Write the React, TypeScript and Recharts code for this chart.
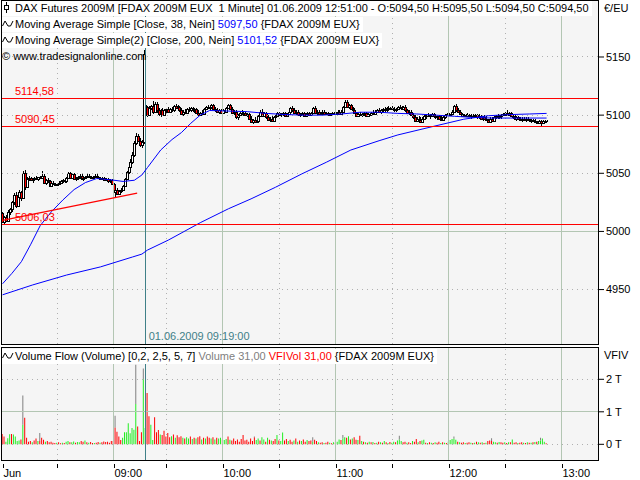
import { ComposedChart, Bar, Line, XAxis, YAxis, ReferenceLine, Cell } from 'recharts'

const FONT = '"Liberation Sans", Arial, sans-serif'

// one entry per traded minute, 08:00 .. 12:51 (bar index, minutes without trades are skipped)
const opens = [
  5016, 5008, 5012, 5009, 5017, 5019, 5025, 5031, 5022, 5030,
  5034, 5029, 5050, 5038, 5045, 5046, 5044, 5045, 5046, 5045,
  5047, 5046, 5048, 5042, 5044, 5043, 5039, 5042, 5041, 5040,
  5041, 5042, 5043, 5044, 5043, 5046, 5050, 5046, 5049, 5045,
  5046, 5047, 5048, 5045, 5046, 5047, 5048, 5047, 5046, 5047,
  5048, 5047, 5046, 5045, 5046, 5044, 5045, 5043, 5044, 5041,
  5034, 5036, 5032, 5035, 5036, 5039, 5045, 5051, 5055, 5060,
  5066, 5076, 5082, 5078, 5074, 5077, 5104, 5107, 5100, 5106,
  5108, 5103, 5110, 5104, 5101, 5104, 5100, 5104, 5105, 5103,
  5105, 5104, 5108, 5106, 5107, 5104, 5101, 5103, 5102, 5105,
  5104, 5106, 5104, 5105, 5102, 5100, 5102, 5101, 5105, 5107,
  5106, 5107, 5109, 5105, 5104, 5103, 5104, 5102, 5104, 5103,
  5106, 5109, 5105, 5102, 5103, 5098, 5100, 5102, 5101, 5102,
  5100, 5101, 5097, 5094, 5096, 5094, 5095, 5099, 5103, 5099,
  5102, 5098, 5096, 5097, 5095, 5098, 5099, 5102, 5100, 5101,
  5102, 5099, 5101, 5103, 5106, 5104, 5102, 5103, 5100, 5101,
  5102, 5099, 5101, 5102, 5100, 5102, 5106, 5102, 5103, 5101,
  5102, 5103, 5101, 5102, 5100, 5101, 5102, 5101, 5102, 5103,
  5101, 5103, 5107, 5111, 5107, 5109, 5105, 5104, 5102, 5099,
  5101, 5100, 5101, 5102, 5099, 5101, 5100, 5102, 5101, 5103,
  5104, 5103, 5104, 5105, 5104, 5106, 5105, 5106, 5105, 5104,
  5105, 5107, 5106, 5105, 5107, 5104, 5102, 5103, 5100, 5098,
  5095, 5097, 5096, 5094, 5097, 5099, 5100, 5099, 5100, 5101,
  5099, 5098, 5099, 5097, 5096, 5098, 5100, 5101, 5100, 5101,
  5103, 5108, 5104, 5103, 5101, 5099, 5100, 5099, 5100, 5099,
  5100, 5099, 5100, 5098, 5099, 5097, 5098, 5097, 5096, 5094,
  5097, 5095, 5098, 5099, 5098, 5099, 5100, 5101, 5102, 5100,
  5102, 5099, 5098, 5097, 5098, 5097, 5096, 5097, 5096, 5097,
  5096, 5095, 5096, 5095, 5094, 5093, 5095, 5093, 5095, 5094.5,
]
const highs = [
  5017, 5013, 5014, 5018, 5020, 5026, 5033, 5034, 5032, 5036,
  5035, 5052, 5053, 5047, 5048, 5047, 5046, 5047, 5048, 5047,
  5048, 5052, 5049, 5045, 5046, 5044, 5043, 5043, 5042, 5042,
  5043, 5044, 5045, 5045, 5047, 5051, 5051, 5050, 5050, 5047,
  5048, 5049, 5049, 5047, 5048, 5049, 5049, 5048, 5048, 5049,
  5049, 5048, 5047, 5047, 5047, 5046, 5046, 5045, 5045, 5042,
  5038, 5037, 5036, 5037, 5040, 5046, 5052, 5056, 5062, 5068,
  5078, 5085, 5084, 5080, 5079, 5156, 5109, 5108, 5108, 5109,
  5112, 5111, 5111, 5106, 5105, 5106, 5105, 5106, 5107, 5106,
  5107, 5109, 5110, 5109, 5108, 5106, 5104, 5105, 5106, 5107,
  5107, 5107, 5106, 5106, 5104, 5103, 5104, 5106, 5108, 5109,
  5108, 5110, 5110, 5107, 5106, 5105, 5105, 5105, 5106, 5107,
  5110, 5110, 5107, 5104, 5104, 5101, 5103, 5104, 5103, 5103,
  5102, 5102, 5099, 5097, 5098, 5097, 5100, 5104, 5105, 5103,
  5103, 5100, 5098, 5099, 5099, 5100, 5103, 5103, 5102, 5103,
  5103, 5102, 5104, 5107, 5108, 5106, 5104, 5104, 5102, 5103,
  5103, 5102, 5103, 5103, 5103, 5107, 5108, 5104, 5104, 5103,
  5104, 5104, 5103, 5103, 5102, 5103, 5103, 5103, 5104, 5104,
  5104, 5108, 5113, 5113, 5110, 5110, 5107, 5106, 5103, 5102,
  5103, 5102, 5103, 5103, 5102, 5102, 5103, 5104, 5104, 5105,
  5106, 5105, 5106, 5107, 5107, 5108, 5107, 5108, 5107, 5106,
  5108, 5109, 5108, 5108, 5109, 5105, 5104, 5104, 5102, 5100,
  5098, 5099, 5098, 5098, 5100, 5101, 5102, 5101, 5102, 5102,
  5101, 5100, 5100, 5099, 5099, 5101, 5102, 5102, 5102, 5104,
  5109, 5110, 5106, 5104, 5102, 5101, 5101, 5102, 5101, 5101,
  5101, 5101, 5101, 5101, 5100, 5099, 5100, 5099, 5097, 5098,
  5098, 5099, 5100, 5101, 5100, 5101, 5102, 5103, 5104, 5103,
  5103, 5100, 5100, 5099, 5099, 5098, 5098, 5098, 5098, 5098,
  5097, 5097, 5097, 5097, 5095, 5096, 5096, 5096, 5096, 5095.5,
]
const lows = [
  5007, 5006, 5008, 5008, 5014, 5017, 5023, 5020, 5021, 5028,
  5026, 5028, 5036, 5037, 5043, 5043, 5042, 5043, 5044, 5043,
  5045, 5045, 5041, 5040, 5042, 5038, 5038, 5040, 5039, 5039,
  5040, 5041, 5042, 5042, 5042, 5045, 5045, 5045, 5044, 5043,
  5044, 5045, 5044, 5043, 5045, 5046, 5046, 5045, 5045, 5046,
  5046, 5045, 5044, 5044, 5043, 5043, 5042, 5042, 5040, 5033,
  5030, 5031, 5031, 5033, 5035, 5038, 5044, 5049, 5053, 5058,
  5064, 5074, 5077, 5073, 5072, 5075, 5100, 5098, 5099, 5104,
  5101, 5102, 5102, 5099, 5098, 5099, 5099, 5102, 5102, 5102,
  5103, 5103, 5105, 5104, 5103, 5100, 5099, 5101, 5101, 5103,
  5103, 5103, 5102, 5101, 5099, 5099, 5100, 5100, 5104, 5105,
  5104, 5106, 5104, 5103, 5102, 5101, 5101, 5101, 5102, 5102,
  5105, 5104, 5101, 5100, 5097, 5096, 5099, 5100, 5099, 5099,
  5098, 5096, 5093, 5092, 5093, 5093, 5094, 5098, 5098, 5098,
  5097, 5095, 5094, 5094, 5094, 5096, 5098, 5099, 5098, 5099,
  5098, 5098, 5100, 5102, 5103, 5101, 5100, 5099, 5098, 5099,
  5098, 5098, 5100, 5099, 5099, 5101, 5101, 5100, 5100, 5100,
  5101, 5100, 5100, 5099, 5099, 5100, 5100, 5100, 5101, 5100,
  5100, 5102, 5106, 5106, 5105, 5104, 5103, 5101, 5098, 5098,
  5099, 5098, 5099, 5098, 5098, 5099, 5099, 5100, 5100, 5102,
  5102, 5101, 5103, 5103, 5103, 5104, 5104, 5104, 5103, 5103,
  5104, 5105, 5104, 5104, 5103, 5101, 5100, 5099, 5097, 5094,
  5094, 5095, 5093, 5093, 5096, 5097, 5098, 5097, 5098, 5098,
  5097, 5096, 5096, 5095, 5095, 5097, 5099, 5099, 5099, 5100,
  5102, 5103, 5102, 5100, 5098, 5098, 5098, 5098, 5098, 5097,
  5098, 5098, 5097, 5097, 5096, 5095, 5096, 5095, 5093, 5093,
  5094, 5094, 5097, 5097, 5097, 5097, 5099, 5099, 5099, 5099,
  5098, 5097, 5096, 5095, 5096, 5095, 5094, 5095, 5094, 5095,
  5094, 5093, 5094, 5093, 5092, 5092, 5091, 5093, 5093, 5094.5,
]
const closes = [
  5008, 5012, 5009, 5017, 5019, 5025, 5031, 5022, 5030, 5034,
  5029, 5050, 5038, 5045, 5046, 5044, 5045, 5046, 5045, 5047,
  5046, 5048, 5042, 5044, 5043, 5039, 5042, 5041, 5040, 5041,
  5042, 5043, 5044, 5043, 5046, 5050, 5046, 5049, 5045, 5046,
  5047, 5048, 5045, 5046, 5047, 5048, 5047, 5046, 5047, 5048,
  5047, 5046, 5045, 5046, 5044, 5045, 5043, 5044, 5041, 5034,
  5036, 5032, 5035, 5036, 5039, 5045, 5051, 5055, 5060, 5066,
  5076, 5082, 5078, 5074, 5077, 5153, 5107, 5100, 5106, 5108,
  5103, 5110, 5104, 5101, 5104, 5100, 5104, 5105, 5103, 5105,
  5104, 5108, 5106, 5107, 5104, 5101, 5103, 5102, 5105, 5104,
  5106, 5104, 5105, 5102, 5100, 5102, 5101, 5105, 5107, 5106,
  5107, 5109, 5105, 5104, 5103, 5104, 5102, 5104, 5103, 5106,
  5109, 5105, 5102, 5103, 5098, 5100, 5102, 5101, 5102, 5100,
  5101, 5097, 5094, 5096, 5094, 5095, 5099, 5103, 5099, 5102,
  5098, 5096, 5097, 5095, 5098, 5099, 5102, 5100, 5101, 5102,
  5099, 5101, 5103, 5106, 5104, 5102, 5103, 5100, 5101, 5102,
  5099, 5101, 5102, 5100, 5102, 5106, 5102, 5103, 5101, 5102,
  5103, 5101, 5102, 5100, 5101, 5102, 5101, 5102, 5103, 5101,
  5103, 5107, 5111, 5107, 5109, 5105, 5104, 5102, 5099, 5101,
  5100, 5101, 5102, 5099, 5101, 5100, 5102, 5101, 5103, 5104,
  5103, 5104, 5105, 5104, 5106, 5105, 5106, 5105, 5104, 5105,
  5107, 5106, 5105, 5107, 5104, 5102, 5103, 5100, 5098, 5095,
  5097, 5096, 5094, 5097, 5099, 5100, 5099, 5100, 5101, 5099,
  5098, 5099, 5097, 5096, 5098, 5100, 5101, 5100, 5101, 5103,
  5108, 5104, 5103, 5101, 5099, 5100, 5099, 5100, 5099, 5100,
  5099, 5100, 5098, 5099, 5097, 5098, 5097, 5096, 5094, 5097,
  5095, 5098, 5099, 5098, 5099, 5100, 5101, 5102, 5100, 5102,
  5099, 5098, 5097, 5098, 5097, 5096, 5097, 5096, 5097, 5096,
  5095, 5096, 5095, 5094, 5093, 5095, 5093, 5095, 5094, 5094.5,
]

// moving averages, read at selected bars
const ma38Idx = [0, 5, 10, 15, 20, 26, 32, 38, 44, 50, 57, 64, 70, 74, 77, 84, 90, 95, 100, 105, 110, 120, 130, 140, 150, 160, 170, 180, 190, 200, 210, 220, 230, 240, 250, 260, 270, 280, 289]
const ma38Val = [4955, 4964, 4974, 4989, 5005, 5017, 5027, 5036, 5042, 5045.5, 5044.5, 5043, 5044, 5048.5, 5055, 5070, 5079, 5085, 5093, 5100, 5104, 5103.5, 5103, 5101.5, 5100.5, 5100, 5100, 5101, 5102.5, 5102.5, 5101.5, 5101, 5100, 5099, 5098, 5097.5, 5097.5, 5097.5, 5097.5]
const ma200Idx = [0, 16, 34, 52, 69, 74, 77, 88, 105, 120, 132, 145, 159, 172, 185, 200, 210, 228, 245, 258, 270, 280, 289]
const ma200Val = [4945.5, 4954, 4962.5, 4969.5, 4978, 4980.5, 4984, 4992.5, 5007.5, 5019.5, 5028, 5038, 5049.5, 5059.5, 5070, 5078, 5083, 5090, 5096.5, 5099.5, 5100.5, 5101, 5101.5]

// drawn trend line and horizontal levels
const trendIdx = [0, 71.5]
const trendVal = [5009.5, 5033]
const levels = [5114.58, 5090.45, 5006.03]
const levelLabels = ['5114,58', '5090,45', '5006,03']

// volume flow in thousands, sign = direction (green up / red down)
const vfi = [
  -0.32, -0.24, 0.08, 0.19, 0.31, -0.32, 0.3, 0.24, 0.1, 0.12,
  -0.15, 0.6, -0.82, -0.2, -0.08, -0.1, 0.06, -0.12, -0.18, 0.1,
  -0.1, -0.2, -0.14, 0.08, -0.1, -0.06, -0.08, -0.05, -0.04, 0.05,
  -0.06, -0.03, 0.05, -0.04, 0.08, 0.1, -0.06, 0.06, 0.09, -0.05,
  0.07, 0.06, -0.1, -0.08, 0.12, -0.06, 0.05, -0.07, -0.04, 0.04,
  -0.05, -0.07, 0.05, -0.06, -0.09, -0.07, -0.08, -0.05, -0.1, -0.1,
  -0.52, -0.39, -0.24, -0.13, 0.2, 0.37, 0.37, 0.65, 0.34, 0.5,
  0.45, 1.24, -0.55, -0.1, -0.37, 2.0, 0.5, -1.58, -0.86, 0.6,
  0.13, -0.83, -0.37, -0.44, 0.3, -0.29, -0.42, -0.24, -0.35, -0.22,
  0.25, -0.3, 0.2, -0.28, -0.22, -0.25, 0.2, -0.18, 0.22, 0.18,
  -0.24, 0.16, -0.2, 0.18, -0.22, -0.25, 0.15, -0.2, 0.18, -0.24,
  -0.2, 0.18, -0.22, 0.15, -0.2, 0.18, 0.2, -0.15, 0.13, 0.16,
  -0.24, 0.14, -0.12, -0.18, -0.1, -0.15, -0.08, -0.16, -0.29, -0.12,
  -0.14, -0.08, -0.18, -0.1, -0.22, 0.13, 0.18, -0.12, 0.22, 0.15,
  -0.08, 0.2, -0.14, 0.12, -0.1, -0.16, 0.29, -0.12, 0.1, 0.36,
  -0.12, -0.16, 0.1, -0.14, -0.08, 0.12, -0.18, 0.08, -0.12, 0.1,
  -0.15, -0.08, 0.13, -0.1, -0.12, 0.08, -0.14, -0.1, 0.06, -0.05,
  -0.06, 0.04, -0.05, -0.08, 0.05, -0.03, 0.06, -0.05, 0.08, 0.15,
  -0.13, 0.18, 0.22, -0.2, 0.25, -0.15, 0.18, -0.22, -0.14, 0.13,
  -0.26, 0.1, -0.08, 0.06, -0.05, 0.08, -0.06, 0.07, -0.04, 0.05,
  -0.08, 0.06, -0.05, 0.1, -0.06, 0.04, -0.07, 0.05, 0.08, -0.06,
  0.12, 0.15, 0.1, -0.06, -0.08, 0.05, -0.06, -0.04, 0.1, -0.08,
  -0.16, 0.06, -0.1, 0.12, 0.14, -0.05, 0.04, -0.06, 0.05, -0.04,
  0.06, -0.05, -0.08, 0.04, -0.06, 0.05, -0.04, 0.08, 0.13, 0.16,
  0.18, 0.14, -0.08, 0.06, -0.05, -0.06, 0.04, -0.05, -0.06, 0.05,
  -0.04, 0.05, -0.08, 0.06, -0.05, 0.06, -0.04, 0.05, -0.1, -0.12,
  -0.1, 0.08, 0.06, -0.05, 0.07, -0.06, -0.05, 0.06, -0.04, 0.06,
  -0.06, 0.15, -0.05, -0.06, 0.04, -0.05, -0.06, 0.05, -0.04, 0.06,
  -0.05, 0.05, -0.06, 0.07, -0.08, 0.1, 0.12, 0.18, 0.08, -0.03,
]
// bars where total volume is above the flow value (grey part)
const volSpikeIdx = [11, 20, 60, 71, 75, 134, 165, 181, 211, 240, 260, 286]
const volSpikeVal = [1.5, 0.35, 0.88, 2.45, 2.33, 0.24, 0.22, 0.29, 0.26, 0.24, 0.19, 0.2]

// axis
const tickIdx = [0, 29, 59, 87, 117, 147, 177, 207, 237, 267, 297]
const tickLabels = ['Jun', '', '09:00', '', '10:00', '', '11:00', '', '12:00', '', '13:00']
const hourIdx = [59, 117, 177, 237, 297]
const halfIdx = [29, 87, 147, 207, 267]
const cursorIdx = 76
const priceTicks = [4950, 5000, 5050, 5100, 5150]
const volTicks = [0, 1, 2]

const X_DOMAIN: [number, number] = [-0.3, 316.3]
const GRID = '#b3c6b3'
const DOTS = '#b0b0b0'
const TEAL = '#3f8088'

const candles = closes.map((c, i) => ({ i, o: opens[i], h: highs[i], l: lows[i], c, range: [lows[i], highs[i]] }))
const ma38Rows = ma38Idx.map((i, k) => ({ i, v: ma38Val[k] }))
const ma200Rows = ma200Idx.map((i, k) => ({ i, v: ma200Val[k] }))
const volRows = vfi.map((v, i) => {
  const s = volSpikeIdx.indexOf(i)
  const flow = Math.abs(v)
  return { i, flow, rest: s >= 0 ? volSpikeVal[s] - flow : 0, up: v >= 0 }
})

function Candle(props: any) {
  const { x, width, payload } = props
  let { y, height } = props
  if (x == null || !payload) return null
  if (height < 0) { y += height; height = -height }
  const { o, h, l, c } = payload
  const k = h > l ? height / (h - l) : 0
  const cx = Math.round(x + width / 2) + 0.5
  const top = Math.round(y + (h - Math.max(o, c)) * k)
  const bot = Math.round(y + (h - Math.min(o, c)) * k)
  return (
    <g shapeRendering="crispEdges">
      <line x1={cx} x2={cx} y1={Math.round(y)} y2={Math.round(y + height)} stroke="#000" />
      <rect x={cx - 1} y={top + 0.5} width={2} height={Math.max(bot - top, 0)}
        fill={c >= o ? '#fff' : '#ff0000'} stroke="#000" />
    </g>
  )
}

function TimeTick({ x, y, payload }: any) {
  const label = tickLabels[tickIdx.indexOf(payload.value)]
  const px = Math.round(x) + 0.5
  return (
    <g>
      <line x1={px} x2={px} y1={y + 4} y2={y + 8} stroke="#000" shapeRendering="crispEdges" />
      <text x={px} y={y + 17} fontSize={11} fontFamily={FONT} fill="#000">{label}</text>
    </g>
  )
}

const vGrid = () => [
  ...hourIdx.map(v => <ReferenceLine key={'h' + v} x={v} stroke={GRID} shapeRendering="crispEdges" />),
  ...halfIdx.map(v => <ReferenceLine key={'m' + v} x={v} stroke={DOTS} strokeDasharray="1 4" shapeRendering="crispEdges" />),
]

const Icon = ({ kind }: { kind: 'candle' | 'wave' }) => (
  <svg width={12} height={11} style={{ verticalAlign: '-1px', marginRight: 1 }}>
    {kind === 'candle' ? (
      <g stroke="#000" fill="#fff" shapeRendering="crispEdges">
        <line x1={4.5} x2={4.5} y1={0} y2={11} />
        <rect x={2.5} y={3.5} width={4} height={4} />
      </g>
    ) : (
      <polyline points="0.5,8 3,3 6,8 8.5,8 11,3" fill="none" stroke="#000" />
    )}
  </svg>
)

const row = (top: number, white: boolean): React.CSSProperties => ({
  position: 'absolute', left: 2, top, height: 15, lineHeight: '15px', paddingRight: 3,
  background: white ? '#fff' : 'transparent', whiteSpace: 'nowrap', fontSize: 11, color: '#000',
})

export default function App() {
  return (
    <div style={{ position: 'absolute', left: 0, top: 0, width: 640, height: 480, background: '#fff', fontFamily: FONT, overflow: 'hidden' }}>
      {/* panel frames */}
      <div style={{ position: 'absolute', left: 1, top: 0, width: 598, height: 345, boxSizing: 'border-box', border: '1px solid #000', background: '#f5f5f5' }} />
      <div style={{ position: 'absolute', left: 1, top: 347, width: 598, height: 114, boxSizing: 'border-box', border: '1px solid #000', background: '#f5f5f5' }} />

      <div style={{ position: 'absolute', left: 0, top: 0 }}>
        <ComposedChart width={640} height={345} data={candles} margin={{ top: 1, right: 0, bottom: 1, left: 2 }}>
          <XAxis dataKey="i" type="number" domain={X_DOMAIN} allowDataOverflow hide />
          <YAxis orientation="right" type="number" domain={[4903.2, 5198.15]} allowDataOverflow ticks={priceTicks} interval={0}
            width={42} axisLine={false} tickSize={6} tickMargin={2} tickLine={{ stroke: '#000' }}
            tick={{ fontSize: 11, fill: '#000', fontFamily: FONT }} />
          {vGrid()}
          {priceTicks.map(v => (
            <ReferenceLine key={v} y={v} stroke={v === 5000 ? GRID : DOTS} strokeDasharray={v === 5000 ? undefined : '1 4'} shapeRendering="crispEdges" />
          ))}
          <ReferenceLine x={cursorIdx} stroke={TEAL} shapeRendering="crispEdges"
            label={({ viewBox }: any) => (
              <text x={viewBox.x + 3} y={viewBox.y + viewBox.height - 4} fontSize={11} fontFamily={FONT} fill={TEAL}>01.06.2009 09:19:00</text>
            )} />
          <Bar dataKey="range" barSize={3} shape={<Candle />} isAnimationActive={false} />
          <Line data={ma200Rows} dataKey="v" stroke="#0000ff" strokeWidth={1} dot={false} type="linear" isAnimationActive={false} />
          <Line data={ma38Rows} dataKey="v" stroke="#0000ff" strokeWidth={1} dot={false} type="linear" isAnimationActive={false} />
          <ReferenceLine segment={[{ x: trendIdx[0], y: trendVal[0] }, { x: trendIdx[1], y: trendVal[1] }]} stroke="#ff0000" strokeWidth={1.2} />
          {levels.map((v, k) => (
            <ReferenceLine key={v} y={v} stroke="#ff0000" strokeWidth={1} shapeRendering="crispEdges"
              label={({ viewBox }: any) => (
                <text x={viewBox.x + 13} y={viewBox.y - 3} fontSize={11} fontFamily={FONT} fill="#ff0000">{levelLabels[k]}</text>
              )} />
          ))}
        </ComposedChart>
      </div>

      <div style={{ position: 'absolute', left: 0, top: 347 }}>
        <ComposedChart width={640} height={133} data={volRows} margin={{ top: 1, right: 0, bottom: 0, left: 2 }}>
          <XAxis dataKey="i" type="number" domain={X_DOMAIN} allowDataOverflow ticks={tickIdx} interval={0}
            height={20} axisLine={false} tickLine={false} tickSize={0} tickMargin={0} tick={<TimeTick />} />
          <YAxis orientation="right" type="number" domain={[-0.483, 2.963]} allowDataOverflow ticks={volTicks} interval={0}
            width={42} axisLine={false} tickSize={6} tickMargin={2} tickLine={{ stroke: '#000' }}
            tickFormatter={(v: number) => `${v} T`}
            tick={{ fontSize: 11, fill: '#000', fontFamily: FONT }} />
          {vGrid()}
          {volTicks.map(v => (
            <ReferenceLine key={v} y={v} stroke={v === 1 ? GRID : DOTS} strokeDasharray={v === 1 ? undefined : '1 4'} shapeRendering="crispEdges" />
          ))}
          <Bar dataKey="flow" stackId="v" barSize={1} isAnimationActive={false}>
            {volRows.map(r => <Cell key={r.i} fill={r.up ? '#22ee22' : '#ff0000'} />)}
          </Bar>
          <Bar dataKey="rest" stackId="v" barSize={1} fill="#808080" isAnimationActive={false} />
          <ReferenceLine x={cursorIdx} stroke={TEAL} shapeRendering="crispEdges" />
        </ComposedChart>
      </div>

      {/* legend rows */}
      <div style={row(1, true)}>
        <Icon kind="candle" />DAX Futures 2009M [FDAX 2009M EUX&nbsp; 1 Minute] 01.06.2009 12:51:00 - O:5094,50 H:5095,50 L:5094,50 C:5094,50
      </div>
      <div style={row(17, true)}>
        <Icon kind="wave" />Moving Average Simple [Close, 38, Nein] <span style={{ color: '#0000ff' }}>5097,50</span> {'{FDAX 2009M EUX}'}
      </div>
      <div style={row(33, true)}>
        <Icon kind="wave" />Moving Average Simple(2) [Close, 200, Nein] <span style={{ color: '#0000ff' }}>5101,52</span> {'{FDAX 2009M EUX}'}
      </div>
      <div style={row(49, false)}>© www.tradesignalonline.com</div>
      <div style={row(349, true)}>
        <Icon kind="wave" />Volume Flow (Volume) [0,2, 2,5, 5, 7] <span style={{ color: '#808080' }}>Volume 31,00</span>{' '}
        <span style={{ color: '#ff0000' }}>VFIVol 31,00</span> {'{FDAX 2009M EUX}'}
      </div>
      <div style={{ position: 'absolute', left: 604, top: 2, fontSize: 11 }}>€/EU</div>
      <div style={{ position: 'absolute', left: 604, top: 349, fontSize: 11 }}>VFIV</div>
    </div>
  )
}
